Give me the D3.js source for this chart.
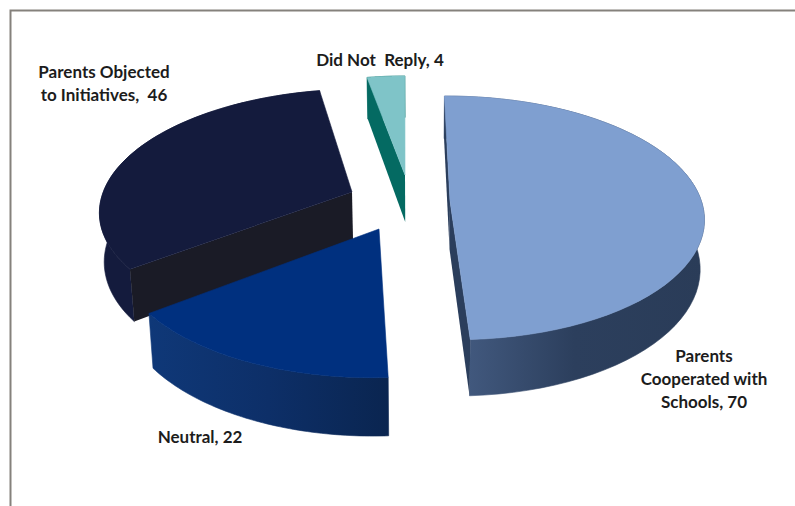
<!DOCTYPE html>
<html>
<head>
<meta charset="utf-8">
<script src="https://cdn.jsdelivr.net/npm/d3@7/dist/d3.min.js"></script>
<style>
  html, body { margin: 0; padding: 0; background: #fff; }
  svg { display: block; }
  text { font-family: Lato, "Open Sans", sans-serif; font-weight: 700; font-size: 17px; fill: #1c1c1c; }
</style>
</head>
<body>
<svg id="chart" width="795" height="506"></svg>
<script>
// Responses recorded for each group
const categories = ["Parents Cooperated with Schools", "Neutral", "Parents Objected to Initiatives", "Did Not Reply"];
const values = [70, 22, 46, 4];
const labelLines = [
  ["Parents", "Cooperated with", "Schools, 70"],
  ["Neutral, 22"],
  ["Parents Objected", "to Initiatives,  46"],
  ["Did Not  Reply, 4"]
];

// Where each exploded slice's point sits on the page, and where its label goes
const apexes = [[450, 201], [379, 229], [352, 192], [405, 175]];
const labelAnchors = [[704, 362], [200, 443], [104, 78], [380, 66]];
const topColors = ["#7f9fd0", "#00307f", "#141b3d", "#7fc4c8"];
const cutColors = ["#2b3e5c", "#0b2a5c", "#1a1b26", "#046a62"];
const wallStops = [
  ["#465e85", "#2c3f5d", "#2a3c58"],
  ["#0f3878", "#0d2f68", "#0a2550"],
  ["#141b3d", "#141b3d", "#141b3d"],
  ["#046a62", "#046a62", "#046a62"]
];
const paintOrder = [3, 2, 0, 1];
const startDegrees = -0.5;

// Perspective view of the tilted disc
const view = { x0: 420, y0: 210, a: 254, b: 122, p: 0.14, depth: 49, shrink: 0.985 };

const svg = d3.select("#chart");
const defs = svg.append("defs");

svg.append("path")
  .attr("d", "M795,10.5 H10.5 V506")
  .attr("fill", "none")
  .attr("stroke", "#85817c")
  .attr("stroke-width", 2);

const project = (wx, wz, low) => {
  const s = 1 / (1 - view.p * wz);
  const k = low ? view.shrink : 1;
  return [
    view.x0 + view.a * wx * s * k,
    view.y0 + view.b * wz * s + (low ? view.depth * s : 0)
  ];
};

const unproject = ([px, py]) => {
  const t = (py - view.y0) / view.b;
  const wz = t / (1 + view.p * t);
  const s = 1 / (1 - view.p * wz);
  return [(px - view.x0) / (view.a * s), wz];
};

const startAngle = startDegrees * Math.PI / 180;
const slices = d3.pie().sort(null).value(d => d)
  .startAngle(startAngle).endAngle(startAngle + 2 * Math.PI)(values);
const polygon = d3.line().curve(d3.curveLinearClosed);

// A cut face shows only when dropping down from its top edge leaves the slice
const faceShows = (apex, edge, inner) => {
  const ex = edge[0] - apex[0], ey = edge[1] - apex[1];
  const side = ex * (inner[1] - apex[1]) - ey * (inner[0] - apex[0]);
  return side * ex < 0;
};

const group = svg.append("g");

paintOrder.forEach(i => {
  const slice = slices[i];
  const [cx, cz] = unproject(apexes[i]);
  const angles = d3.range(0, 61).map(k => slice.startAngle + (slice.endAngle - slice.startAngle) * k / 60);
  const rim = low => angles.map(a => project(cx + Math.sin(a), cz - Math.cos(a), low));
  const apexTop = project(cx, cz, false);
  const apexLow = project(cx, cz, true);
  const rimTop = rim(false);
  const rimLow = rim(true);

  const grad = defs.append("linearGradient").attr("id", "wall" + i);
  wallStops[i].forEach((c, k) => grad.append("stop").attr("offset", k / 2).attr("stop-color", c));

  const g = group.append("g").attr("class", "slice").datum(categories[i]);

  // Curved outer wall, then the visible cut faces, then the top of the slice
  g.append("path")
    .attr("d", polygon(rimTop.concat(rimLow.slice().reverse())))
    .attr("fill", `url(#wall${i})`)
    .attr("stroke", `url(#wall${i})`)
    .attr("stroke-width", 0.6);

  [[0, 30], [60, 30]].forEach(([edge, inner]) => {
    if (!faceShows(apexTop, rimTop[edge], rimTop[inner])) return;
    g.append("path")
      .attr("d", polygon([apexTop, rimTop[edge], rimLow[edge], apexLow]))
      .attr("fill", cutColors[i]);
  });

  g.append("path")
    .attr("d", polygon([apexTop].concat(rimTop)))
    .attr("fill", topColors[i])
    .attr("stroke", topColors[i])
    .attr("stroke-width", 0.6);
});

const labels = svg.append("g");
labelLines.forEach((lines, i) => {
  const t = labels.append("text")
    .attr("text-anchor", "middle")
    .style("white-space", "pre");
  lines.forEach((line, k) => {
    t.append("tspan")
      .attr("x", labelAnchors[i][0])
      .attr("y", labelAnchors[i][1] + k * 23)
      .text(line);
  });
});
</script>
</body>
</html>
